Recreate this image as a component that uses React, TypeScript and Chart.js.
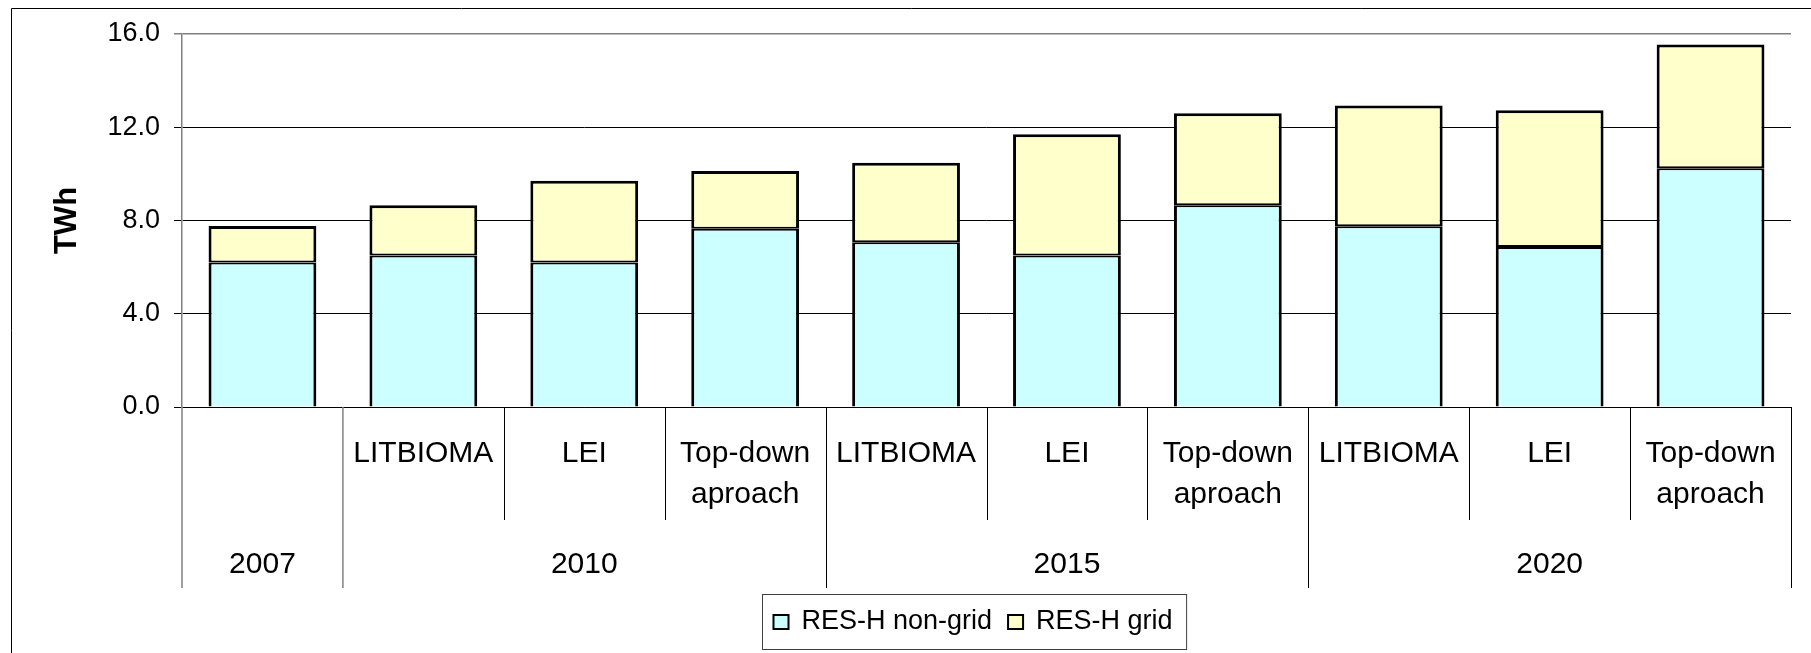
import React, { useEffect, useRef } from 'react';
import { Chart, registerables } from 'chart.js';

Chart.register(...registerables);

const FONT = "'Liberation Sans', Arial, Helvetica, sans-serif";

// ---- data ----
const subLabels: (string | string[])[] = [
  '',
  'LITBIOMA',
  'LEI',
  ['Top-down', 'aproach'],
  'LITBIOMA',
  'LEI',
  ['Top-down', 'aproach'],
  'LITBIOMA',
  'LEI',
  ['Top-down', 'aproach'],
];
const years = ['2007', '2010', '2015', '2020'];
const yearSpans = [1, 3, 3, 3];
const seriesNames = ['RES-H non-grid', 'RES-H grid'];
const nonGrid = [6.2, 6.5, 6.2, 7.65, 7.07, 6.5, 8.65, 7.75, 6.86, 10.24];
const gridVals = [1.56, 2.15, 3.5, 2.47, 3.41, 5.2, 3.95, 5.18, 5.87, 5.31];
const yTicks = [0, 4, 8, 12, 16];
const seriesColors = ['#CCFFFF', '#FFFFCC'];

const tablePlugin = {
  id: 'tableAxis',
  afterDraw(chart: any) {
    const ctx = chart.ctx as CanvasRenderingContext2D;
    const xs = chart.scales.x;
    const area = chart.chartArea;
    const n = subLabels.length;
    const bound = (i: number) =>
      i === 0
        ? area.left
        : i === n
        ? area.right
        : (xs.getPixelForValue(i - 1) + xs.getPixelForValue(i)) / 2;
    const y0 = area.bottom;
    const subBottom = y0 + 113;
    const groupBottom = y0 + 181;
    const groupEdges = [0];
    let acc = 0;
    yearSpans.forEach((s) => {
      acc += s;
      groupEdges.push(acc);
    });

    ctx.save();
    // dividers
    for (let i = 0; i <= n; i++) {
      const isGroup = groupEdges.includes(i);
      const grey = i <= 1;
      const x = grey ? bound(i) : Math.round(bound(i)) + 0.5;
      ctx.beginPath();
      ctx.strokeStyle = grey ? '#808080' : '#000';
      ctx.lineWidth = grey ? 1.5 : 1;
      ctx.moveTo(x, y0);
      ctx.lineTo(x, isGroup ? groupBottom : subBottom);
      ctx.stroke();
    }
    // year labels
    ctx.font = `30px ${FONT}`;
    ctx.fillStyle = '#000';
    ctx.textAlign = 'center';
    ctx.textBaseline = 'middle';
    for (let g = 0; g < years.length; g++) {
      const cx = (bound(groupEdges[g]) + bound(groupEdges[g + 1])) / 2;
      ctx.fillText(years[g], cx, y0 + 158);
    }

    // legend
    ctx.font = `27px ${FONT}`;
    const boxW = 17, boxH = 16, gapText = 12, gapItem = 15, padL = 10, padR = 14;
    const datasets = chart.data.datasets;
    const itemWidths = datasets.map(
      (d: any) => boxW + gapText + ctx.measureText(d.label).width
    );
    const total =
      itemWidths.reduce((a: number, b: number) => a + b, 0) +
      gapItem * (datasets.length - 1);
    const legW = padL + total + padR;
    const legCx = (area.left + area.right) / 2 - 12;
    const legL = Math.round(legCx - legW / 2) + 0.5;
    const legT = Math.round(y0 + 187) + 0.5;
    const legH = 55;
    ctx.fillStyle = '#fff';
    ctx.fillRect(legL, legT, legW, legH);
    ctx.strokeStyle = '#404040';
    ctx.lineWidth = 1;
    ctx.strokeRect(legL, legT, legW, legH);
    let x = legL + padL;
    const midY = legT + legH / 2;
    datasets.forEach((d: any, i: number) => {
      const by = Math.round(midY - boxH / 2);
      ctx.fillStyle = d.backgroundColor;
      ctx.fillRect(x, by, boxW, boxH);
      ctx.strokeStyle = '#000';
      ctx.lineWidth = 2;
      ctx.strokeRect(x + 1, by + 1, boxW - 2, boxH - 2);
      ctx.fillStyle = '#000';
      ctx.textAlign = 'left';
      ctx.textBaseline = 'middle';
      ctx.fillText(d.label, x + boxW + gapText, midY);
      x += itemWidths[i] + gapItem;
    });

    // outer frame
    ctx.strokeStyle = '#000';
    ctx.lineWidth = 1;
    ctx.beginPath();
    ctx.moveTo(11.5, chart.height);
    ctx.lineTo(11.5, 8.5);
    ctx.lineTo(chart.width, 8.5);
    ctx.stroke();
    ctx.restore();
  },
};

const segBorders = [
  { top: 2, left: 3, right: 3, bottom: 0 },
  { top: 3, left: 3, right: 3, bottom: 2 },
];

export default function App() {
  const ref = useRef<HTMLCanvasElement | null>(null);

  useEffect(() => {
    if (!ref.current) return;
    Chart.defaults.font.family = FONT;
    const chart = new Chart(ref.current, {
      type: 'bar',
      data: {
        labels: subLabels as any,
        datasets: seriesNames.map((name, i) => ({
          label: name,
          data: i === 0 ? nonGrid : gridVals,
          backgroundColor: seriesColors[i],
          borderColor: '#000',
          borderWidth: segBorders[i],
          borderSkipped: false,
          inflateAmount: 0,
          categoryPercentage: 1,
          barPercentage: 0.67,
        })),
      },
      options: {
        animation: false,
        responsive: true,
        maintainAspectRatio: false,
        layout: { padding: { top: 34, left: 0, right: 20, bottom: 0 } },
        plugins: {
          legend: { display: false },
          tooltip: { enabled: false },
        },
        scales: {
          x: {
            stacked: true,
            grid: { display: false, drawTicks: false },
            border: { display: true, color: '#000', width: 1 },
            ticks: {
              color: '#000',
              font: { family: FONT, size: 30, lineHeight: 1.37 },
              padding: 26,
              maxRotation: 0,
              minRotation: 0,
              autoSkip: false,
            },
            afterFit: (s: any) => {
              s.height = 246;
            },
          },
          y: {
            stacked: true,
            min: 0,
            max: 16,
            afterBuildTicks: (s: any) => {
              s.ticks = yTicks.map((v) => ({ value: v }));
            },
            ticks: {
              color: '#000',
              font: { family: FONT, size: 27 },
              padding: 14,
              callback: (v: any) => Number(v).toFixed(1),
            },
            grid: {
              color: (c: any) => (c.tick && c.tick.value === 16 ? '#808080' : '#000'),
              lineWidth: (c: any) => (c.tick && c.tick.value === 16 ? 1.5 : 1),
              tickLength: 8,
              drawTicks: true,
            },
            border: { display: true, color: '#808080', width: 1.5 },
            title: {
              display: true,
              text: 'TWh',
              color: '#000',
              font: { family: FONT, size: 31, weight: 'bold' },
              padding: { top: 49, bottom: 0 },
            },
            afterFit: (s: any) => {
              s.width = 182;
            },
          },
        },
      },
      plugins: [tablePlugin],
    });
    return () => chart.destroy();
  }, []);

  return (
    <div
      style={{
        position: 'fixed',
        left: 0,
        top: 0,
        width: 1811,
        height: 653,
        background: '#fff',
      }}
    >
      <canvas ref={ref} />
    </div>
  );
}
